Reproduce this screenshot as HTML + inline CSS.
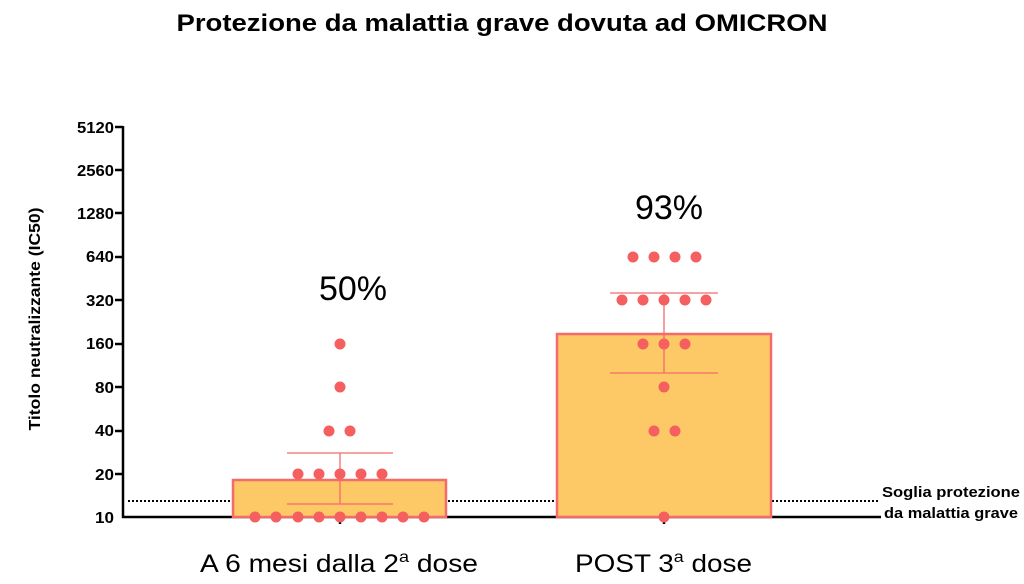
<!DOCTYPE html>
<html><head><meta charset="utf-8"><style>
body{margin:0;background:#fff;}
svg{display:block;font-family:"Liberation Sans",Arial,sans-serif;}
</style></head><body>
<svg width="1024" height="584" viewBox="0 0 1024 584">
<text x="502" y="31" text-anchor="middle" font-size="24" font-weight="bold" textLength="651" lengthAdjust="spacingAndGlyphs">Protezione da malattia grave dovuta ad OMICRON</text>
<text transform="translate(40,319) rotate(-90)" text-anchor="middle" font-size="16" font-weight="bold" textLength="223" lengthAdjust="spacingAndGlyphs">Titolo neutralizzante (IC50)</text>
<g font-size="16" font-weight="bold" text-anchor="end">
<text x="114" y="133" textLength="37" lengthAdjust="spacingAndGlyphs">5120</text><text x="114" y="176" textLength="37" lengthAdjust="spacingAndGlyphs">2560</text><text x="114" y="219" textLength="37" lengthAdjust="spacingAndGlyphs">1280</text>
<text x="114" y="262" textLength="28" lengthAdjust="spacingAndGlyphs">640</text><text x="114" y="306" textLength="28" lengthAdjust="spacingAndGlyphs">320</text><text x="114" y="349" textLength="28" lengthAdjust="spacingAndGlyphs">160</text>
<text x="114" y="393" textLength="19" lengthAdjust="spacingAndGlyphs">80</text><text x="114" y="436" textLength="19" lengthAdjust="spacingAndGlyphs">40</text><text x="114" y="480" textLength="19" lengthAdjust="spacingAndGlyphs">20</text><text x="114" y="523" textLength="19" lengthAdjust="spacingAndGlyphs">10</text>
</g>
<g stroke="#000" stroke-width="2.5">
<line x1="123" y1="126" x2="123" y2="518"/>
<line x1="115" y1="127" x2="123" y2="127"/><line x1="115" y1="170" x2="123" y2="170"/>
<line x1="115" y1="213" x2="123" y2="213"/><line x1="115" y1="257" x2="123" y2="257"/>
<line x1="115" y1="300" x2="123" y2="300"/><line x1="115" y1="344" x2="123" y2="344"/>
<line x1="115" y1="387" x2="123" y2="387"/><line x1="115" y1="431" x2="123" y2="431"/>
<line x1="115" y1="474" x2="123" y2="474"/>
<line x1="122" y1="517" x2="881" y2="517"/>
<line x1="340" y1="517" x2="340" y2="524"/><line x1="664" y1="517" x2="664" y2="524"/>
</g>
<line x1="128" y1="501" x2="880" y2="501" stroke="#000" stroke-width="2" stroke-dasharray="2,2"/>
<rect x="233" y="480" width="213" height="37" fill="#fdc966" stroke="#f46b6b" stroke-width="2.5"/>
<rect x="557" y="334" width="214" height="183" fill="#fdc966" stroke="#f46b6b" stroke-width="2.5"/>
<g stroke="#f46b6b" stroke-width="1.3">
<line x1="287" y1="453" x2="393" y2="453"/><line x1="287" y1="504" x2="393" y2="504"/><line x1="340" y1="453" x2="340" y2="504"/>
<line x1="610" y1="293" x2="718" y2="293"/><line x1="610" y1="373" x2="718" y2="373"/><line x1="664" y1="293" x2="664" y2="373"/>
</g>
<g fill="#f55f5f">
<circle cx="255" cy="517" r="5.5"/><circle cx="276" cy="517" r="5.5"/><circle cx="298" cy="517" r="5.5"/><circle cx="319" cy="517" r="5.5"/><circle cx="340" cy="517" r="5.5"/><circle cx="361" cy="517" r="5.5"/><circle cx="382" cy="517" r="5.5"/><circle cx="403" cy="517" r="5.5"/><circle cx="424" cy="517" r="5.5"/>
<circle cx="298" cy="474" r="5.5"/><circle cx="319" cy="474" r="5.5"/><circle cx="340" cy="474" r="5.5"/><circle cx="361" cy="474" r="5.5"/><circle cx="382" cy="474" r="5.5"/>
<circle cx="329" cy="431" r="5.5"/><circle cx="350" cy="431" r="5.5"/>
<circle cx="340" cy="387" r="5.5"/><circle cx="340" cy="344" r="5.5"/>
<circle cx="633" cy="257" r="5.5"/><circle cx="654" cy="257" r="5.5"/><circle cx="675" cy="257" r="5.5"/><circle cx="696" cy="257" r="5.5"/>
<circle cx="622" cy="300" r="5.5"/><circle cx="643" cy="300" r="5.5"/><circle cx="664" cy="300" r="5.5"/><circle cx="685" cy="300" r="5.5"/><circle cx="706" cy="300" r="5.5"/>
<circle cx="643" cy="344" r="5.5"/><circle cx="664" cy="344" r="5.5"/><circle cx="685" cy="344" r="5.5"/>
<circle cx="664" cy="387" r="5.5"/>
<circle cx="654" cy="431" r="5.5"/><circle cx="675" cy="431" r="5.5"/>
<circle cx="664" cy="517" r="5.5"/>
</g>
<text x="353" y="300" text-anchor="middle" font-size="34">50%</text>
<text x="669" y="219" text-anchor="middle" font-size="34">93%</text>
<g font-size="15" font-weight="bold"><text x="882" y="497" textLength="138" lengthAdjust="spacingAndGlyphs">Soglia protezione</text><text x="884" y="518" textLength="134" lengthAdjust="spacingAndGlyphs">da malattia grave</text></g>
<g font-size="25">
<text x="200" y="572" textLength="278" lengthAdjust="spacingAndGlyphs">A 6 mesi dalla 2<tspan font-size="16" dy="-10">a</tspan><tspan dy="10"> dose</tspan></text>
<text x="575" y="572" textLength="177" lengthAdjust="spacingAndGlyphs">POST 3<tspan font-size="16" dy="-10">a</tspan><tspan dy="10"> dose</tspan></text>
</g>
</svg>
</body></html>
